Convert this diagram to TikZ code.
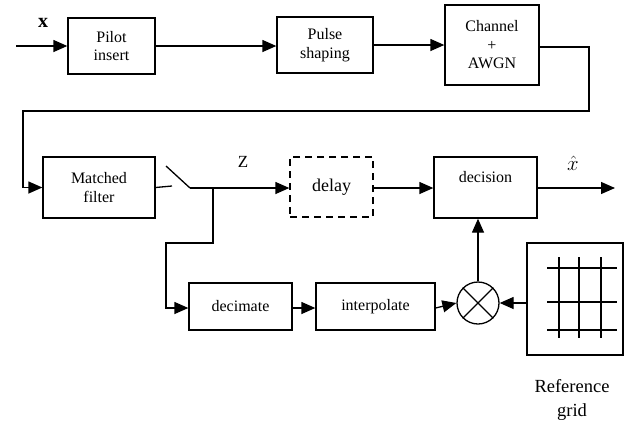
\documentclass[tikz,border=0pt]{standalone}
\usepackage{fontspec}
\setmainfont{Liberation Serif}
\usetikzlibrary{arrows.meta}
\begin{document}
\begin{tikzpicture}[x=1pt,y=-1pt,
  box/.style={draw,line width=1.3pt,inner sep=0pt,align=center,font=\fontsize{16}{18.5}\selectfont},
  conn/.style={line width=1.3pt},
  arr/.style={conn,-{Triangle[length=14pt,width=12pt]}},
  lbl/.style={inner sep=0pt}]
\useasboundingbox (0,0) rectangle (627,421);
% top row
\node[lbl,font=\fontsize{20}{20}\selectfont\bfseries] (xin) at (43,23) {x};
\coordinate (in) at (16,46);
\node[box,minimum width=87pt,minimum height=56pt] (pilot) at (111.5,46) {Pilot\\insert};
\node[box,minimum width=96pt,minimum height=56pt] (pulse) at (325,45) {Pulse\\shaping};
\node[box,minimum width=94pt,minimum height=80pt] (chan) at (492,45) {Channel\\+\\AWGN};
\draw[arr] (in) -- (pilot.west |- in);
\draw[arr] (pilot.east |- in) -- (pulse.west |- in);
\draw[arr] (pulse.east) -- (chan.west);
% feedback route
\node[box,minimum width=112pt,minimum height=61pt] (mf) at (99,187.5) {Matched\\filter};
\coordinate (r1) at (589,47);
\coordinate (r2) at (589,111);
\coordinate (r3) at (23,111);
\draw[arr] (chan.east |- r1) -- (r1) -- (r2) -- (r3) -- (r3 |- mf.west) -- (mf.west);
% switch
\coordinate (s0) at (172,186);
\coordinate (s1) at (166,166);
\coordinate (s2) at (190,188);
\coordinate (br) at (213,188);
\draw[conn] (mf.east) -- (s0);
\draw[conn] (s1) -- (s2);
\node[box,dash pattern=on 7pt off 5pt,minimum width=83pt,minimum height=60pt,font=\fontsize{18}{20}\selectfont] (delay) at (331.5,187) {delay};
\draw[arr] (s2) -- (delay.west |- s2);
\node[lbl,font=\fontsize{17}{17}\selectfont] (zl) at (243,162) {Z};
\node[box,minimum width=103pt,minimum height=61pt] (dec) at (485.5,187.5) {};
\node[lbl,font=\fontsize{16}{18}\selectfont] (dect) at (485.5,177) {decision};
\coordinate (dl) at (373,188);
\draw[arr] (dl) -- (dec.west |- dl);
\coordinate (out) at (615,188);
\draw[arr] (dec.east |- out) -- (out);
\node[lbl,font=\fontsize{21}{21}\selectfont] (xh) at (573,163) {$\hat{x}$};
% lower branch
\node[box,minimum width=103pt,minimum height=47pt] (decim) at (240.5,306.5) {decimate};
\node[box,minimum width=119pt,minimum height=47pt] (interp) at (375.5,306.5) {interpolate};
\coordinate (b1) at (213,243);
\coordinate (b2) at (166,243);
\coordinate (b3) at (166,308);
\draw[arr] (br) -- (b1) -- (b2) -- (b3) -- (decim.west |- b3);
\draw[arr] (decim.east |- b3) -- (interp.west |- b3);
\node[draw,circle,line width=1.3pt,minimum size=42pt,inner sep=0pt] (mult) at (478,303) {};
\draw[conn] (mult.north east) -- (mult.south west);
\draw[conn] (mult.north west) -- (mult.south east);
\draw[arr] (interp.east |- b3) -- (mult.west);
\draw[arr] (mult.north) -- (dec.south -| mult.north);
% reference grid
\node[box,minimum width=96pt,minimum height=112pt] (grid) at (575,299) {};
\draw[arr] (grid.west |- mult.east) -- (mult.east);
\foreach \yy in {268,302,330} \draw[conn] (547,\yy) -- (617,\yy);
\foreach \xx in {559,579,601} \draw[conn] (\xx,257) -- (\xx,338);
\node[lbl,align=center,font=\fontsize{18.5}{24}\selectfont] (gl) at (572,400) {Reference\\grid};
\end{tikzpicture}
\end{document}
